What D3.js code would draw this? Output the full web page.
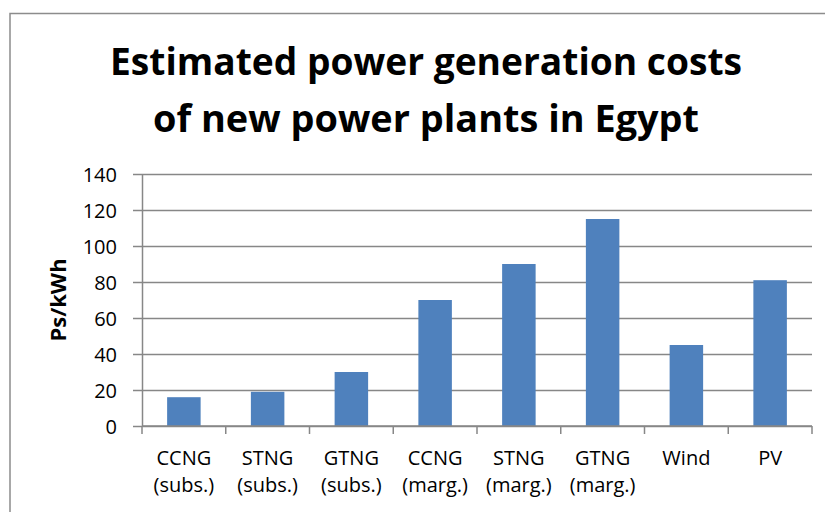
<!DOCTYPE html>
<html>
<head>
<meta charset="utf-8">
<script src="https://cdn.jsdelivr.net/npm/d3@7"></script>
<style>
  body { margin: 0; background: #fff; }
  svg text { font-family: "Open Sans", "Liberation Sans", sans-serif; fill: #000; }
</style>
</head>
<body>
<div id="chart"></div>
<script>
const categories = [
  ["CCNG", "(subs.)"], ["STNG", "(subs.)"], ["GTNG", "(subs.)"],
  ["CCNG", "(marg.)"], ["STNG", "(marg.)"], ["GTNG", "(marg.)"],
  ["Wind"], ["PV"]
]
const costs = [16, 19, 30, 70, 90, 115, 45, 81]
const yTicks = [0, 20, 40, 60, 80, 100, 120, 140]
const titleLines = ["Estimated power generation costs", "of new power plants in Egypt"]
const yLabel = "Ps/kWh"

const width = 825
const height = 512
const margin = { top: 174, right: 13, bottom: 86, left: 142 }
const innerW = width - margin.left - margin.right
const innerH = height - margin.top - margin.bottom
const gridColor = "#878787"

const svg = d3.select("#chart")
  .append("svg")
  .attr("width", width)
  .attr("height", height)

// Outer chart border (runs off the right/bottom edge)
svg.append("rect")
  .attr("x", 10)
  .attr("y", 13.5)
  .attr("width", 900)
  .attr("height", 600)
  .attr("fill", "none")
  .attr("stroke", "#8c8c8c")
  .attr("stroke-width", 1.5)

// Title, squeezed to the width of the original narrow bold face
svg.append("g")
  .selectAll("text")
  .data(titleLines)
  .join("text")
  .attr("x", 426)
  .attr("y", (d, i) => 75 + i * 57)
  .attr("text-anchor", "middle")
  .attr("textLength", (d, i) => i === 0 ? 632 : 546)
  .attr("lengthAdjust", "spacingAndGlyphs")
  .style("font-size", "37px")
  .style("font-weight", "700")
  .text(d => d)

const g = svg.append("g")
  .attr("transform", `translate(${margin.left},${margin.top})`)

const x = d3.scaleBand()
  .domain(d3.range(categories.length))
  .range([0, innerW])
  .paddingInner(0.6)
  .paddingOuter(0.3)

const y = d3.scaleLinear()
  .domain([0, 140])
  .range([innerH, 0])

// Y axis with gridlines
g.append("g")
  .call(
    d3.axisLeft(y)
      .tickValues(yTicks)
      .tickSize(-innerW)
      .tickSizeOuter(0)
      .tickPadding(25)
  )
  .call(a => a.select(".domain").attr("stroke", gridColor).attr("stroke-width", 1.5))
  .call(a => a.selectAll(".tick line")
    .attr("x1", -9)
    .attr("stroke", gridColor)
    .attr("stroke-width", 1.5))
  .call(a => a.selectAll(".tick text")
    .style("font-size", "20px")
    .attr("dy", "0.36em"))

// Bars
g.append("g")
  .selectAll("rect")
  .data(costs)
  .join("rect")
  .attr("x", (d, i) => x(i))
  .attr("y", d => y(d))
  .attr("width", x.bandwidth())
  .attr("height", d => innerH - y(d))
  .attr("fill", "#4f81bd")

// X axis: boundary ticks between categories
const step = x.step()
const boundaries = d3.range(categories.length + 1).map(i => i * step)
const xAxis = g.append("g").attr("transform", `translate(0,${innerH})`)
xAxis.append("line")
  .attr("x1", 0)
  .attr("x2", innerW)
  .attr("stroke", gridColor)
  .attr("stroke-width", 1.5)
xAxis.selectAll(".bound")
  .data(boundaries)
  .join("line")
  .attr("class", "bound")
  .attr("x1", d => d)
  .attr("x2", d => d)
  .attr("y1", 0)
  .attr("y2", 8)
  .attr("stroke", gridColor)
  .attr("stroke-width", 1.5)

xAxis.selectAll(".cat")
  .data(categories)
  .join("text")
  .attr("class", "cat")
  .attr("text-anchor", "middle")
  .style("font-size", "20px")
  .each(function (lines, i) {
    d3.select(this)
      .selectAll("tspan")
      .data(lines)
      .join("tspan")
      .attr("x", x(i) + x.bandwidth() / 2)
      .attr("y", (d, j) => 39 + j * 27)
      .text(d => d)
  })

// Y axis title
svg.append("text")
  .attr("transform", `translate(66,${margin.top + innerH / 2}) rotate(-90)`)
  .attr("text-anchor", "middle")
  .style("font-size", "22px")
  .style("font-weight", "700")
  .text(yLabel)
</script>
</body>
</html>
